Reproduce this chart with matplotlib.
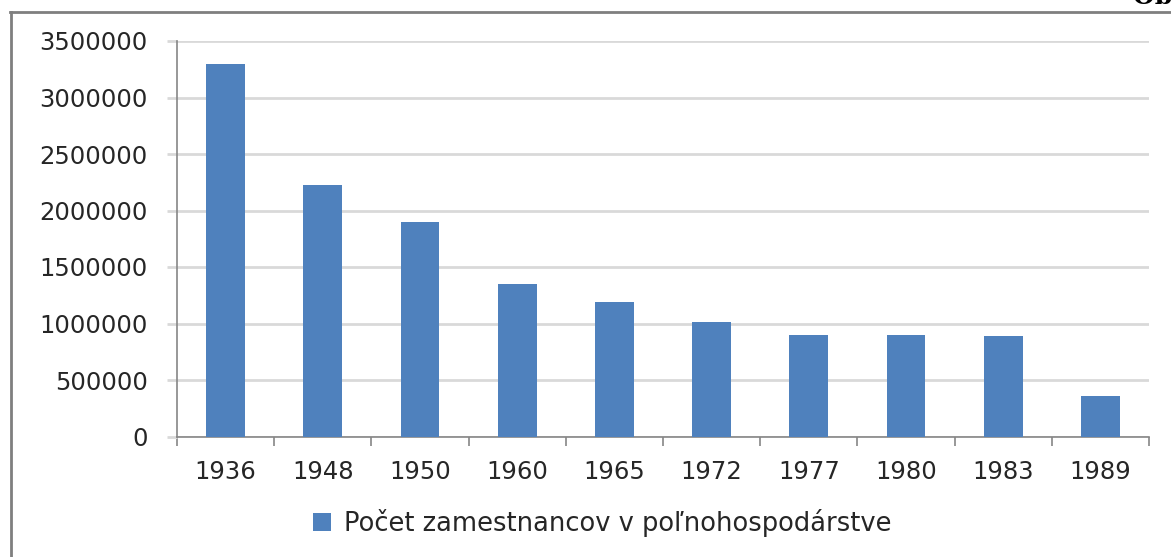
import matplotlib
matplotlib.use("Agg")
import matplotlib.pyplot as plt
from matplotlib.lines import Line2D
from matplotlib.patches import Patch

years = ["1936", "1948", "1950", "1960", "1965", "1972", "1977", "1980", "1983", "1989"]
employees = [3300000, 2222000, 1894000, 1348000, 1188000, 1012000, 899000, 898000, 891000, 362000]
series_label = "Počet zamestnancov v poľnohospodárstve"
y_ticks = [0, 500000, 1000000, 1500000, 2000000, 2500000, 3000000, 3500000]

W, H = 1171, 557
fig = plt.figure(figsize=(W / 100, H / 100), dpi=100)
fig.patch.set_facecolor("white")

left, right, top, bottom = 177, 1149, 41, 436.5
ax = fig.add_axes([left / W, 1 - bottom / H, (right - left) / W, (bottom - top) / H])

x = list(range(len(years)))
ax.bar(x, employees, width=0.4, color="#4F81BD", zorder=3, label=series_label)

ax.set_xlim(-0.5, len(years) - 0.5)
ax.set_ylim(0, 3500000)
ax.set_yticks(y_ticks)
ax.set_yticklabels([str(v) for v in y_ticks])
ax.set_xticks([i - 0.5 for i in range(len(years) + 1)])
ax.set_xticklabels([])
ax.set_xticks(x, minor=True)
ax.set_xticklabels(years, minor=True)

ax.grid(axis="y", color="#D9D9D9", linewidth=2, zorder=0)
for s in ["top", "right"]:
    ax.spines[s].set_visible(False)
for s in ["left", "bottom"]:
    ax.spines[s].set_color("#868686")
    ax.spines[s].set_linewidth(1.2)

ax.tick_params(axis="y", which="major", length=7, width=2, color="#D9D9D9",
               labelsize=17.5, labelcolor="#262626", pad=14)
ax.tick_params(axis="x", which="major", length=6.5, width=1.2, color="#868686", direction="out")
ax.tick_params(axis="x", which="minor", length=0, labelsize=17.5, labelcolor="#262626", pad=17)
for lab in ax.get_yticklabels() + ax.get_xticklabels(minor=True):
    lab.set_family("DejaVu Sans")

# legend
handle = Patch(facecolor="#4F81BD", edgecolor="none")
fig.legend([handle], [series_label], loc="center", bbox_to_anchor=(602 / W, 1 - 523 / H),
           frameon=False, fontsize=18.5, handlelength=0.7, handleheight=0.7,
           handletextpad=0.5, labelcolor="#262626")

# outer frame lines
fig.add_artist(Line2D([10.5 / W, 10.5 / W], [0, 1 - 12 / H], transform=fig.transFigure,
                      color="#7F7F7F", linewidth=2))
fig.add_artist(Line2D([10 / W, 1], [1 - 12 / H, 1 - 12 / H], transform=fig.transFigure,
                      color="#7F7F7F", linewidth=2))

# cut-off text at top right
fig.text(1133 / W, 1 - 9 / H, "Ob", fontsize=18, fontweight="bold", family="DejaVu Serif",
         ha="left", va="bottom", color="black")

fig.savefig("out.png", dpi=100)
